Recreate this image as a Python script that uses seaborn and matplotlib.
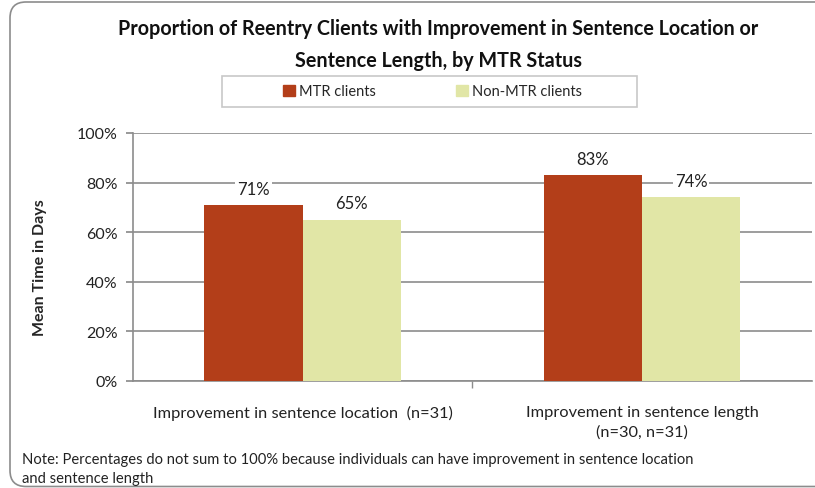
import pandas as pd
import matplotlib.pyplot as plt
import seaborn as sns
from matplotlib.patches import FancyBboxPatch, Rectangle
from matplotlib.ticker import FixedLocator

# data
categories = ['Improvement in sentence location  (n=31)',
              'Improvement in sentence length\n(n=30, n=31)']
groups = ['MTR clients', 'Non-MTR clients']
mtr_values = [71, 83]
non_mtr_values = [65, 74]
y_ticks = [0, 20, 40, 60, 80, 100]

df = pd.DataFrame({
    'category': categories * 2,
    'group': [groups[0]] * 2 + [groups[1]] * 2,
    'value': mtr_values + non_mtr_values,
})

sns.set_theme(style='white')
plt.rcParams['font.family'] = ['Lato', 'DejaVu Sans']

fig = plt.figure(figsize=(8.15, 4.89), dpi=100)
ax = fig.add_axes([0.163, 0.219, 0.833, 0.507])

palette = {'MTR clients': '#b33e19', 'Non-MTR clients': '#e1e6a6'}
sns.barplot(data=df, x='category', y='value', hue='group', palette=palette,
            width=0.578, saturation=1, ax=ax, legend=False, zorder=3,
            linewidth=0, edgecolor='none')

ax.set_ylim(0, 100)
ax.set_xlim(-0.5, 1.5)
ax.set_yticks(y_ticks)
ax.set_yticklabels([f'{t}%' for t in y_ticks], fontsize=11.5, color='#222222')
ax.yaxis.grid(True, color='#8c8c8c', linewidth=1.2, zorder=0)
ax.set_axisbelow(True)
ax.tick_params(axis='y', left=True, length=5, color='#8c8c8c', pad=6)
ax.tick_params(axis='x', labelsize=11.8, labelcolor='#222222', pad=17, length=0)
for lbl in ax.get_xticklabels():
    lbl.set_linespacing(1.55)
ax.xaxis.set_minor_locator(FixedLocator([0.5]))
ax.tick_params(axis='x', which='minor', bottom=True, length=5, color='#8c8c8c')
for s in ['top', 'right']:
    ax.spines[s].set_visible(False)
for s in ['left', 'bottom']:
    ax.spines[s].set_color('#8c8c8c')
    ax.spines[s].set_linewidth(1.2)
ax.set_xlabel('')
ax.set_ylabel('Mean Time in Days', fontsize=11.5, fontweight='bold')
ax.yaxis.set_label_coords(-0.127, 0.46)

for cont in ax.containers:
    ax.bar_label(cont, labels=[f'{v:.0f}%' for v in cont.datavalues],
                 padding=6, fontsize=12, color='#222222',
                 bbox=dict(facecolor='white', edgecolor='none', pad=1.5))

fig.text(0.538, 0.908, 'Proportion of Reentry Clients with Improvement in Sentence Location or\nSentence Length, by MTR Status',
         ha='center', va='center', fontsize=14.2, fontweight='bold',
         color='#111111', linespacing=1.75)

# legend box
fig.patches.append(Rectangle((222 / 815, 1 - 108 / 489), 415 / 815, 31 / 489,
                             transform=fig.transFigure, facecolor='white',
                             edgecolor='#c8c8c8', linewidth=1.2))
handles = [plt.Rectangle((0, 0), 1, 1, color=palette[g]) for g in groups]
fig.legend(handles, groups, loc='center', bbox_to_anchor=(0.531, 0.811),
           ncol=2, frameon=False, fontsize=10.5, handlelength=0.8,
           handleheight=0.8, handletextpad=0.3, columnspacing=5.5,
           borderpad=0, borderaxespad=0)

fig.text(0.027, 0.04, 'Note: Percentages do not sum to 100% because individuals can have improvement in sentence location\nand sentence length',
         ha='left', va='center', fontsize=10.65, color='#222222', linespacing=1.4)

# rounded outer frame (pixel coordinates)
frame = FancyBboxPatch((10, 1.5), 900, 484.5, transform=None,
                       boxstyle='round,pad=0,rounding_size=16',
                       facecolor='none', edgecolor='#8c8c8c', linewidth=1.2)
fig.patches.append(frame)

plt.savefig('out.png', dpi=100)
plt.close()
